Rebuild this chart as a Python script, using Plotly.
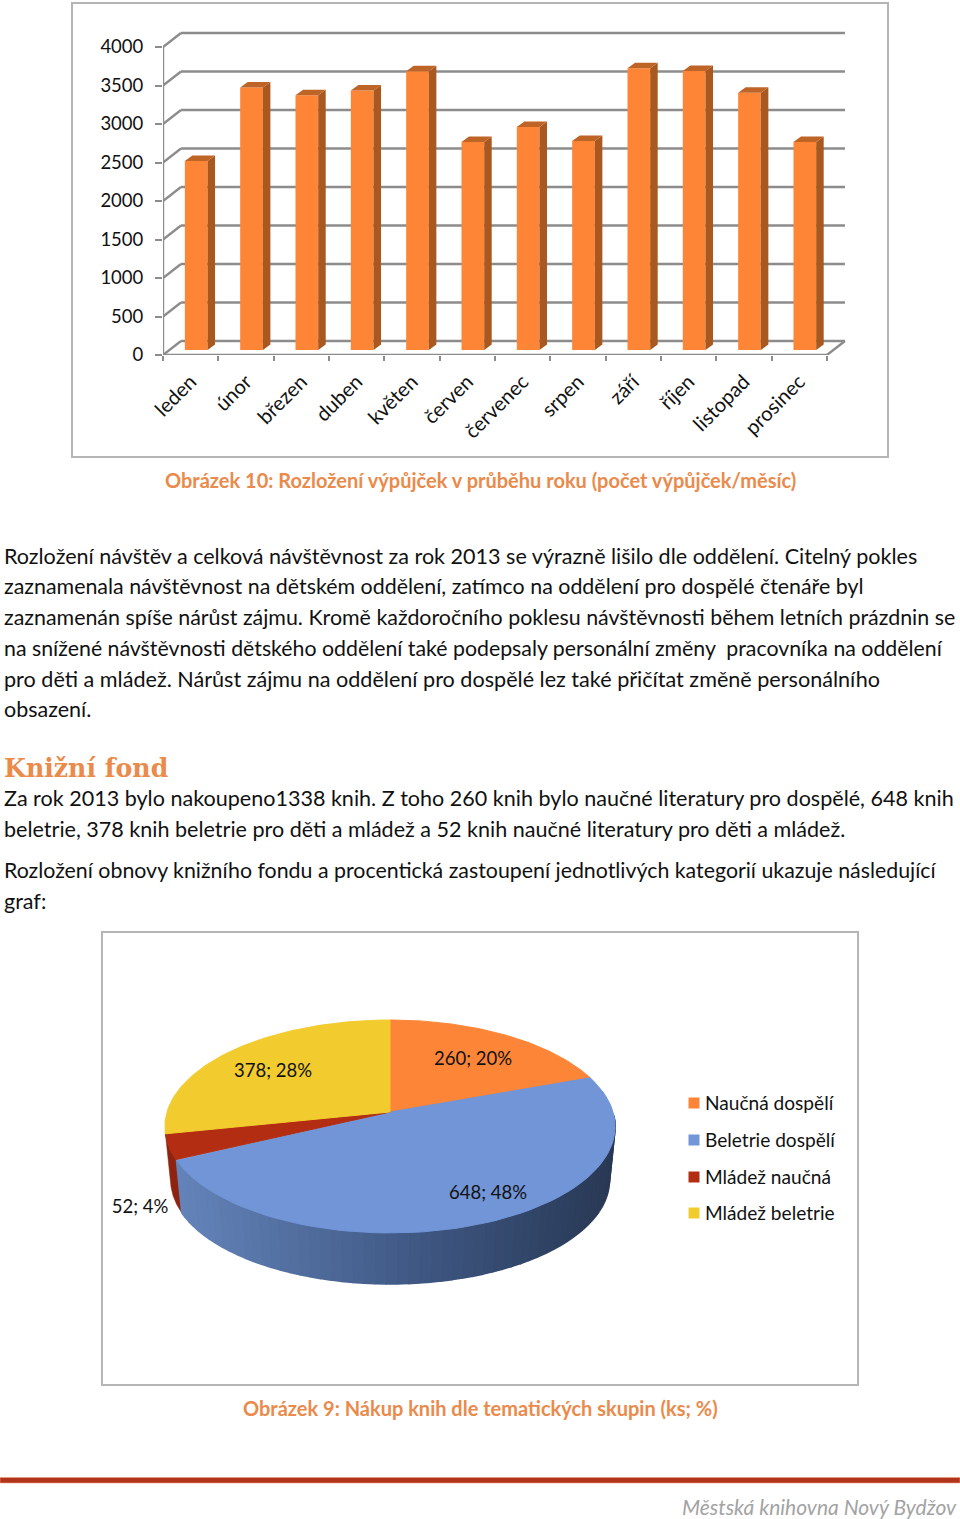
import math
import plotly.graph_objects as go

W, H = 960, 1519

# ---------- data ----------
months = ["leden", "únor", "březen", "duben", "květen", "červen", "červenec",
          "srpen", "září", "říjen", "listopad", "prosinec"]
loans = [2455, 3410, 3310, 3370, 3620, 2700, 2895, 2715, 3660, 3625, 3340, 2700]
y_ticks = [0, 500, 1000, 1500, 2000, 2500, 3000, 3500, 4000]

pie_names = ["Naučná dospělí", "Beletrie dospělí", "Mládež naučná", "Mládež beletrie"]
pie_values = [260, 648, 52, 378]
pie_percent = [20, 48, 4, 28]
pie_colors = ["#FD8537", "#7195D6", "#B32D12", "#F2CC2E"]

body_lines = [
    ("Rozložení návštěv a celková návštěvnost za rok 2013 se výrazně lišilo dle oddělení. Citelný pokles", 555.5, 21.55),
    ("zaznamenala návštěvnost na dětském oddělení, zatímco na oddělení pro dospělé čtenáře byl", 586.5, 21.4),
    ("zaznamenán spíše nárůst zájmu. Kromě každoročního poklesu návštěvnosti během letních prázdnin se", 616.5, 21.4),
    ("na snížené návštěvnosti dětského oddělení také podepsaly personální změny\u00a0 pracovníka na oddělení", 647.5, 21.3),
    ("pro děti a mládež. Nárůst zájmu na oddělení pro dospělé lez také přičítat změně personálního", 678.5, 21.6),
    ("obsazení.", 709.5, 21.5),
    ("Za rok 2013 bylo nakoupeno1338 knih. Z toho 260 knih bylo naučné literatury pro dospělé, 648 knih", 797.5, 21.55),
    ("beletrie, 378 knih beletrie pro děti a mládež a 52 knih naučné literatury pro děti a mládež.", 828.5, 21.55),
    ("Rozložení obnovy knižního fondu a procentická zastoupení jednotlivých kategorií ukazuje následující", 869.5, 21.35),
    ("graf:", 900.5, 21.5),
]

FONT = "Lato"


def fx(px):
    return px / W


def fy(py):
    return 1 - py / H


fig = go.Figure()

# ---------- bar chart geometry ----------
X0, XSTEP, Y0, YSCALE = 163.0, 55.33, 355.0, 0.077
XMAX, YMAX = 12.5, 4300
wall_dx, wall_dy = 18 / XSTEP, 14 / YSCALE
bar_dx, bar_dy = 7.5 / XSTEP, 5.5 / YSCALE
bar_base = 5 / YSCALE
bar_w = 22.7 / XSTEP
bar_c = [i + 0.5 + 0.1 for i in range(len(months))]

shapes = []
grid = dict(color="#8C8C8C", width=2.4)
for v in y_ticks:
    shapes.append(dict(type="line", xref="x", yref="y", layer="below", x0=0, y0=v,
                       x1=wall_dx, y1=v + wall_dy, line=grid))
    shapes.append(dict(type="line", xref="x", yref="y", layer="below", x0=wall_dx, y0=v + wall_dy,
                       x1=12 + wall_dx, y1=v + wall_dy, line=grid))
shapes.append(dict(type="line", xref="x", yref="y", layer="below", x0=0, y0=0, x1=0, y1=4000, line=grid))
shapes.append(dict(type="line", xref="x", yref="y", layer="below", x0=0, y0=0, x1=12, y1=0, line=grid))
shapes.append(dict(type="line", xref="x", yref="y", layer="below", x0=12, y0=0,
                   x1=12 + wall_dx, y1=wall_dy, line=grid))

fig.add_trace(go.Bar(x=bar_c, y=loans, base=bar_base, width=bar_w, marker=dict(color="#FD8535", line_width=0),
                     xaxis="x", yaxis="y", showlegend=False, name="Výpůjčky"))
for c, v in zip(bar_c, loans):
    l, r = c - bar_w / 2, c + bar_w / 2
    top = v + bar_base
    fig.add_trace(go.Scatter(x=[r, r + bar_dx, r + bar_dx, r], y=[bar_base, bar_base + bar_dy, top + bar_dy, top],
                             fill="toself", fillcolor="#A9581F", mode="none", showlegend=False,
                             hoverinfo="skip", xaxis="x", yaxis="y"))
    fig.add_trace(go.Scatter(x=[l, r, r + bar_dx, l + bar_dx], y=[top, top, top + bar_dy, top + bar_dy],
                             fill="toself", fillcolor="#BF6427", mode="none", showlegend=False,
                             hoverinfo="skip", xaxis="x", yaxis="y"))

# ---------- pie geometry (perspective projection of the data-driven angles) ----------
APEX_X, APEX_Y = 390, 1112
PX0, PX1, PY0, PY1 = 103, 858, 933, 1385
K, A, B = 0.136, 104.5, 223.0
SCALE, DEPTH = 0.975, 54


def top_pt(theta):
    u, v = math.sin(theta), math.cos(theta)
    d = 1 + K * v
    return B * u / d, A * v / d


def low_pt(theta):
    x, y = top_pt(theta)
    return SCALE * x, SCALE * y - DEPTH


def arc(a0, a1, fn, n):
    return [fn(a0 + (a1 - a0) * i / n) for i in range(n + 1)]


def lerp_hex(c0, c1, t):
    a = [int(c0[i:i + 2], 16) for i in (1, 3, 5)]
    b = [int(c1[i:i + 2], 16) for i in (1, 3, 5)]
    return "rgb(%d,%d,%d)" % tuple(round(p + (q - p) * t) for p, q in zip(a, b))


total = sum(pie_values)
edges = [0.0]
for v in pie_values:
    edges.append(edges[-1] + v / total * 2 * math.pi)


def wall(a0, a1, color, lw=1.6):
    poly = arc(a0, a1, top_pt, 3) + arc(a1, a0, low_pt, 3)
    fig.add_trace(go.Scatter(x=[p[0] for p in poly], y=[p[1] for p in poly], fill="toself", fillcolor=color,
                             mode="lines", line=dict(color=color, width=lw), showlegend=False,
                             hoverinfo="skip", xaxis="x2", yaxis="y2"))


wall(edges[2], edges[3], "#8E2410", 0.5)
strips = 60
a0, a1 = max(edges[1], math.radians(92)), edges[2]
for i in range(strips):
    s0 = a0 + (a1 - a0) * i / strips
    s1 = a0 + (a1 - a0) * (i + 1) / strips
    xm = top_pt((s0 + s1) / 2)[0]
    t = (xm + 215) / 430
    if t < 0.6:
        col = lerp_hex("#6484BA", "#3D5580", t / 0.6)
    else:
        col = lerp_hex("#3D5580", "#2A3A57", (t - 0.6) / 0.4)
    wall(s0, s1, col)

for i, (name, col) in enumerate(zip(pie_names, pie_colors)):
    poly = [(0, 0)] + arc(edges[i], edges[i + 1], top_pt, 80) + [(0, 0)]
    fig.add_trace(go.Scatter(x=[p[0] for p in poly], y=[p[1] for p in poly], fill="toself", fillcolor=col,
                             mode="lines", line=dict(color=col, width=1), showlegend=False, name=name,
                             hoverinfo="skip", xaxis="x2", yaxis="y2"))

label_pos = [(83, 52), (98, -82), (-250, -96), (-117, 40)]
fig.add_trace(go.Scatter(x=[p[0] for p in label_pos], y=[p[1] for p in label_pos], mode="text",
                         text=[f"{v}; {p}%" for v, p in zip(pie_values, pie_percent)],
                         textfont=dict(family=FONT, size=18.5, color="#111"), textposition="middle center",
                         showlegend=False, hoverinfo="skip", xaxis="x2", yaxis="y2"))

# ---------- page furniture ----------
frame = dict(color="#B5B5B5", width=2)
shapes += [
    dict(type="rect", xref="paper", yref="paper", layer="below", x0=fx(72), x1=fx(888), y0=fy(457), y1=fy(3), line=frame),
    dict(type="rect", xref="paper", yref="paper", layer="below", x0=fx(102), x1=fx(858), y0=fy(1385), y1=fy(932), line=frame),
    dict(type="rect", xref="paper", yref="paper", layer="below", x0=0, x1=1, y0=fy(1483), y1=fy(1477.5),
         fillcolor="#B2331A", line=dict(color="#E8A080", width=0.6)),
]

ann = []


def text(s, x, y, size, color="#111", anchor="left", family=FONT, bold=False, italic=False):
    if bold:
        s = f"<b>{s}</b>"
    if italic:
        s = f"<i>{s}</i>"
    ann.append(dict(text=s, x=fx(x), y=fy(y), xref="paper", yref="paper", xanchor=anchor, yanchor="middle",
                    showarrow=False, font=dict(family=family, size=size, color=color), borderpad=0, borderwidth=0))


for s, y, size in body_lines:
    text(s, 4, y, size)

ORANGE = "#EA8A4B"
text("Obrázek 10: Rozložení výpůjček v průběhu roku (počet výpůjček/měsíc)", 480.5, 480, 20, ORANGE, "center", bold=True)
text("Obrázek 9: Nákup knih dle tematických skupin (ks; %)", 480, 1408, 20, ORANGE, "center", bold=True)
text("Knižní fond", 4, 768, 25.2, ORANGE, family="DejaVu Serif", bold=True)
text("Městská knihovna Nový Bydžov", 957, 1506, 21, "#A3A3A3", "right", italic=True)

legend_rows = [1102, 1139, 1176, 1212]
for name, col, y in zip(pie_names, pie_colors, [1103, 1140, 1177, 1213]):
    shapes.append(dict(type="rect", xref="paper", yref="paper", x0=fx(688.5), x1=fx(699.5),
                       y0=fy(y + 5.5), y1=fy(y - 5.5), fillcolor=col, line_width=0))
for name, y in zip(pie_names, legend_rows):
    text(name, 705, y, 19.1)

fig.update_layout(
    width=W, height=H, margin=dict(l=0, r=0, t=0, b=0, pad=0, autoexpand=False), autosize=False,
    paper_bgcolor="white", plot_bgcolor="rgba(0,0,0,0)", showlegend=False, barmode="overlay",
    xaxis=dict(domain=[fx(X0), fx(X0 + XMAX * XSTEP)], range=[0, XMAX], tickmode="array",
               tickvals=[i + 0.5 for i in range(12)], ticktext=months, tickangle=-45,
               ticks="", ticklabelstandoff=10, showgrid=False, zeroline=False, showline=False,
               tickfont=dict(family=FONT, size=20.2, color="#111"), anchor="y",
               minor=dict(tickmode="linear", tick0=0, dtick=1, ticks="outside", ticklen=5,
                          tickwidth=2, tickcolor="#8C8C8C", showgrid=False)),
    yaxis=dict(domain=[fy(Y0), fy(Y0 - YMAX * YSCALE)], range=[0, YMAX], tickmode="array", tickvals=y_ticks,
               ticks="outside", ticklen=7, tickwidth=2, tickcolor="#8C8C8C", ticklabelstandoff=8,
               showgrid=False, zeroline=False, showline=False,
               tickfont=dict(family=FONT, size=18.5, color="#111"), anchor="x"),
    xaxis2=dict(domain=[fx(PX0), fx(PX1)], range=[PX0 - APEX_X, PX1 - APEX_X], visible=False, anchor="y2"),
    yaxis2=dict(domain=[fy(PY1), fy(PY0)], range=[APEX_Y - PY1, APEX_Y - PY0], visible=False, anchor="x2"),
    shapes=shapes, annotations=ann,
)

fig.write_html(
    "out.html",
    config={"displayModeBar": False, "responsive": False},
    post_script="document.body.style.margin='0';document.body.style.padding='0';",
)
